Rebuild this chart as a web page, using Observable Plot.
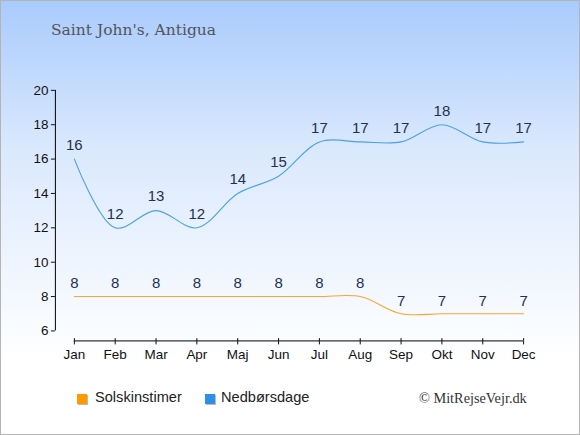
<!DOCTYPE html>
<html>
<head>
<meta charset="utf-8">
<script src="https://cdn.jsdelivr.net/npm/d3@7"></script>
<script src="https://cdn.jsdelivr.net/npm/@observablehq/plot@0.6"></script>
<style>
  html, body { margin: 0; padding: 0; background: #fff; }
  #wrap {
    position: relative; width: 578px; height: 433px;
    border: 1px solid #b4b4b4;
    background: linear-gradient(to bottom, #a9cbfd 0px, #dbe9fd 150px, #ffffff 360px, #ffffff 433px);
    overflow: hidden;
  }
  #title {
    position: absolute; left: 50px; top: 20px;
    font-family: "DejaVu Serif", Georgia, serif; font-size: 15.5px; color: #555;
  }
  #chart { position: absolute; left: -1px; top: -1px; }
  .leg { position: absolute; top: 388px; font-family: "Liberation Sans", Arial, sans-serif; font-size: 14.6px; color: #222; }
  .sw { position: absolute; width: 10px; height: 10px; top: 393px; box-shadow: 1px 1px 0 #bbb; }
  #copy {
    position: absolute; left: 418px; top: 389px;
    font-family: "Liberation Serif", "Times New Roman", serif; font-size: 14.3px; color: #333;
  }
</style>
</head>
<body>
<div id="wrap">
  <div id="chart"></div>
  <div id="title">Saint John's, Antigua</div>
  <div class="sw" style="left:76px;background:#ff9900"></div>
  <div class="leg" style="left:94px">Solskinstimer</div>
  <div class="sw" style="left:204px;background:#2f8fe6"></div>
  <div class="leg" style="left:220px">Nedbørsdage</div>
  <div id="copy">© MitRejseVejr.dk</div>
</div>
<script>
const months = ["Jan","Feb","Mar","Apr","Maj","Jun","Jul","Aug","Sep","Okt","Nov","Dec"];
const sunHours = [8,8,8,8,8,8,8,8,7,7,7,7];
const rainDays = [16,12,13,12,14,15,17,17,17,18,17,17];
const yTicks = [6,8,10,12,14,16,18,20];

const sun = months.map((m, i) => ({i, v: sunHours[i]}));
const rain = months.map((m, i) => ({i, v: rainDays[i]}));
const idx = months.map((m, i) => i);

const yMin = 5.419;

const plot = Plot.plot({
  width: 580,
  height: 435,
  marginLeft: 55,
  marginRight: 56,
  marginTop: 90,
  marginBottom: 94,
  style: {background: "transparent", fontFamily: "Liberation Sans, Arial, sans-serif", fontSize: "13.5px"},
  x: {domain: [-0.464, 11]},
  y: {domain: [yMin, 20]},
  marks: [
    Plot.ruleX([-0.464], {y1: 6, y2: 20, stroke: "#000", strokeOpacity: 1}),
    Plot.ruleY([yMin], {x1: 0, x2: 11, stroke: "#000", strokeOpacity: 1}),
    Plot.ruleX(idx, {x: d => d, y1: yMin, y2: yMin + 0.13, stroke: "#000", strokeOpacity: 1}),
    Plot.axisY({ticks: yTicks, tickSize: 4, tickPadding: 3, fontSize: 13.5, color: "#111", label: null}),
    Plot.axisX({ticks: idx, tickFormat: i => months[i], tickSize: 4, tickPadding: 5, fontSize: 13.5, color: "#111", label: null}),
    Plot.line(sun, {x: "i", y: "v", stroke: "#f8a62c", strokeWidth: 1.1, curve: "catmull-rom"}),
    Plot.line(rain, {x: "i", y: "v", stroke: "#4aa0e8", strokeWidth: 1.1, curve: "catmull-rom"}),
    Plot.text(sun, {x: "i", y: "v", text: d => String(d.v), dy: -13, fontSize: 15, fill: "#1f3050"}),
    Plot.text(rain, {x: "i", y: "v", text: d => String(d.v), dy: -14, fontSize: 15, fill: "#1f3050"})
  ]
});
document.getElementById("chart").appendChild(plot);
</script>
</body>
</html>
